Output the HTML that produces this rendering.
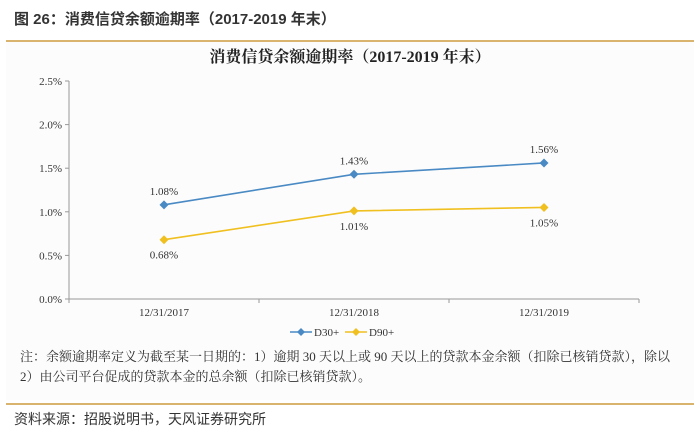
<!DOCTYPE html>
<html><head><meta charset="utf-8"><style>
body{margin:0;background:#fff;width:700px;height:432px;overflow:hidden;font-family:"Liberation Serif","Noto Serif CJK SC",serif;}
.hdr{position:absolute;left:14px;top:8px;font:bold 15px "Liberation Sans","Noto Sans CJK SC",sans-serif;color:#333;}
.rule{position:absolute;left:6px;width:688px;height:2px;background:#d9b46e;}
.src{position:absolute;left:14px;top:409px;font:14px "Liberation Sans","Noto Sans CJK SC",sans-serif;color:#333;}
</style></head><body>
<div class="hdr">图 26：消费信贷余额逾期率（2017-2019 年末）</div>
<div class="rule" style="top:40px"></div>
<svg id="chart" width="700" height="400" style="position:absolute;left:0;top:0">
<rect x="6" y="42" width="688" height="360" fill="#fcfcfc"/>
<text x="350" y="62" text-anchor="middle" font-size="16" font-weight="bold" fill="#222" font-family="'Liberation Serif','Noto Serif CJK SC',serif">消费信贷余额逾期率（2017-2019 年末）</text>
<g id="axes"></g><g id="marks"></g>
<g font-size="11" fill="#333">
<line x1="290" y1="332" x2="312" y2="332" stroke="#4a8ac4" stroke-width="1.5"/><path d="M301 328l4 4-4 4-4-4z" fill="#4a8ac4"/>
<text x="314" y="336">D30+</text>
<line x1="345" y1="332" x2="367" y2="332" stroke="#f0c020" stroke-width="1.5"/><path d="M356 328l4 4-4 4-4-4z" fill="#f0c020"/>
<text x="369" y="336">D90+</text>
</g>
<text x="20" y="361" font-size="13" fill="#333">注：余额逾期率定义为截至某一日期的：1）逾期 30 天以上或 90 天以上的贷款本金余额（扣除已核销贷款），除以</text>
<text x="20" y="381" font-size="13" fill="#333">2）由公司平台促成的贷款本金的总余额（扣除已核销贷款）。</text>
</svg>
<div class="rule" style="top:403px"></div>
<div class="src">资料来源：招股说明书，天风证券研究所</div>
<script>
const categories=["12/31/2017","12/31/2018","12/31/2019"];
const d30=[1.08,1.43,1.56];
const d90=[0.68,1.01,1.05];
const yTicks=[0,0.5,1.0,1.5,2.0,2.5];
const NS="http://www.w3.org/2000/svg";
const x0=69,x1=639,y0=299,yTop=81,yMax=2.5;
const band=(x1-x0)/categories.length;
const X=i=>x0+band*(i+0.5);
const Y=v=>y0-(v/yMax)*(y0-yTop);
function mk(tag,attrs,parent,text){const e=document.createElementNS(NS,tag);for(const k in attrs)e.setAttribute(k,attrs[k]);if(text!=null)e.textContent=text;parent.appendChild(e);return e;}
const ax=document.getElementById('axes'),mg=document.getElementById('marks');
let yl=mk('line',{x1:x0,y1:yTop,x2:x0,y2:y0,stroke:'#999'},ax);


let xl=mk('line',{x1:x0,y1:y0,x2:x1,y2:y0,stroke:'#999'},ax);


yTicks.forEach(t=>{mk('line',{x1:x0-4,y1:Y(t),x2:x0,y2:Y(t),stroke:'#999'},ax);
 const e=mk('text',{x:x0-7,y:Y(t)+4,'text-anchor':'end','font-size':11,fill:'#333'},ax,t.toFixed(1)+'%');
 
 });
for(let i=0;i<=categories.length;i++)mk('line',{x1:x0+band*i,y1:y0,x2:x0+band*i,y2:y0+4,stroke:'#999'},ax);
categories.forEach((c,i)=>{const e=mk('text',{x:X(i),y:y0+17,'text-anchor':'middle','font-size':11,fill:'#333'},ax,c);
 
 });
function series(vals,color,name,above){
 const p=mk('polyline',{points:vals.map((v,i)=>X(i)+','+Y(v)).join(' '),fill:'none',stroke:color,'stroke-width':1.6},mg);
 
 
 vals.forEach((v,i)=>{const x=X(i),y=Y(v);
  const d=mk('path',{d:`M${x} ${y-4.5}l4.5 4.5-4.5 4.5-4.5-4.5z`,fill:color},mg);
  
  
  const t=mk('text',{x:x,y:above?y-10:y+19,'text-anchor':'middle','font-size':11,fill:'#333'},mg,v.toFixed(2)+'%');
  
  });
}
series(d30,'#4a8ac4','d30',true);
series(d90,'#f0c020','d90',false);
</script>
</body></html>
